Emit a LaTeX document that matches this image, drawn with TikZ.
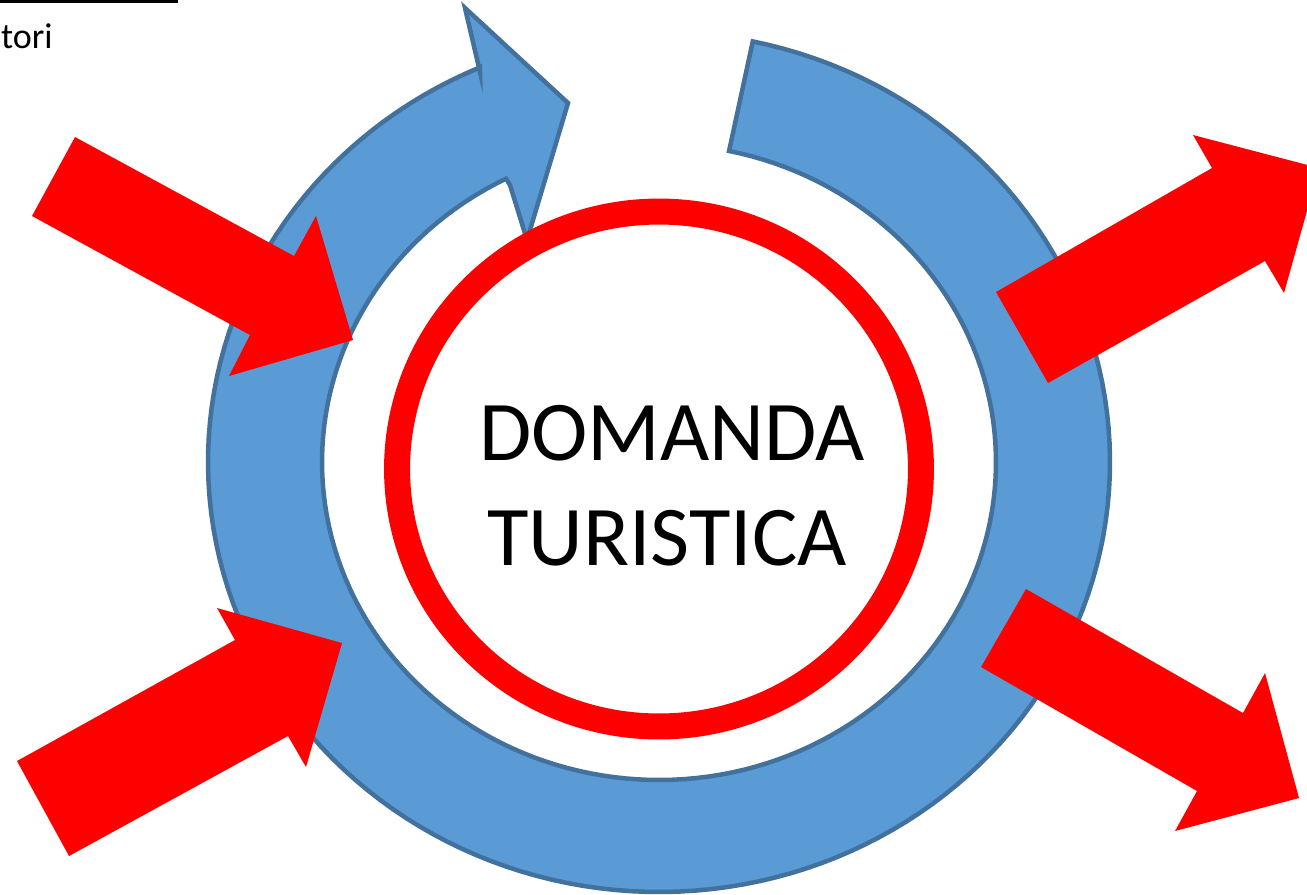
\documentclass[tikz,border=0pt]{standalone}
\usepackage{fontspec}
\setmainfont{Carlito}
\usepackage{tikz}

\definecolor{ringblue}{HTML}{5B9BD5}
\definecolor{ringedge}{HTML}{41719C}

\begin{document}
\begin{tikzpicture}[x=0.02cm,y=-0.02cm,
    blueband/.style={fill=ringblue,draw=ringedge,line width=0.09cm},
    redarrow/.style={fill=red},
    bigtext/.style={inner sep=0pt,anchor=base,font=\fontsize{48.4}{59.7}\selectfont}]
    \useasboundingbox (0,0) rectangle (1307,894);
    % top left remains of the page
    \draw[line width=1.5pt] (0,1.3) -- (178,1.3);
    \node[inner sep=0pt,anchor=base east,font=\fontsize{20.5}{24}\selectfont] (tori) at (53,48) {tori};
    % blue circular arrow
    \draw[blueband] plot[domain=0:324.6,samples=160] ({659+451*cos(78-\x)},{462-430*sin(78-\x)})
        -- (480,72) -- (465,8) -- (568,103) -- (527,240) -- (510,185)
        -- plot[domain=-243:78,samples=160] ({659+337*cos(\x)},{462-318*sin(\x)}) -- cycle;
    % red ring
    \draw[red,line width=0.52cm] (659,469) ellipse[x radius=5.24cm,y radius=5.15cm];
    % red block arrows
    \fill[redarrow] (75,137) -- (294,256) -- (316,216) -- (353,340) -- (229,376) -- (250,335) -- (32,216) -- cycle;
    \fill[redarrow] (17,761) -- (235,640) -- (217,608) -- (342,643) -- (306,767) -- (288,736) -- (69,856) -- cycle;
    \fill[redarrow] (996,292) -- (1212,168) -- (1193,135) -- (1319,168) -- (1284,293) -- (1265,261) -- (1048,383) -- cycle;
    \fill[redarrow] (1026,589) -- (1243,713) -- (1265,673) -- (1299,798) -- (1175,831) -- (1197,791) -- (981,667) -- cycle;
    % centre text
    \node[bigtext] (domanda) at (672,460) {DOMANDA};
    \node[bigtext] (turistica) at (667,565) {TURISTICA};
\end{tikzpicture}
\end{document}
